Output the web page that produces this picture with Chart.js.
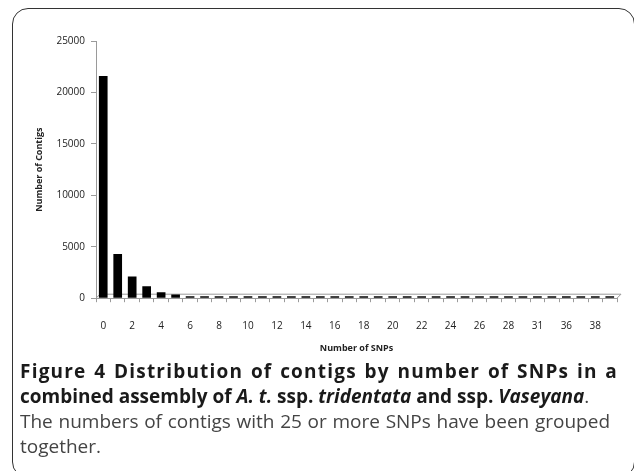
<!DOCTYPE html>
<html>
<head>
<meta charset="utf-8">
<script src="https://cdn.jsdelivr.net/npm/chart.js@4"></script>
<style>
  html, body { margin: 0; padding: 0; background: #fff; }
  body { width: 634px; height: 471px; position: relative; overflow: hidden; }
  .frame {
    position: absolute; left: 12px; top: 8px; width: 623px; height: 470px;
    border: 1.5px solid #333; border-radius: 16px; box-sizing: border-box;
  }
  .chart-box { position: absolute; left: 0; top: 0; width: 634px; height: 360px; }
  .caption {
    position: absolute; left: 20px; top: 359px; width: 598px;
    font-family: "Open Sans", sans-serif; font-size: 19px; line-height: 25px; color: #444;
  }
  .caption div { white-space: nowrap; }
  .caption .j { text-align: justify; text-align-last: justify; white-space: normal; }
  .caption .ls { letter-spacing: 1.2px; }
  .caption b { color: #1a1a1a; }
</style>
</head>
<body>
<div class="frame"></div>
<div class="chart-box"><canvas id="snpChart"></canvas></div>
<div class="caption">
  <div class="j ls"><b>Figure 4 Distribution of contigs by number of SNPs in a</b></div>
  <div><b>combined assembly of <i>A. t.</i> ssp. <i>tridentata</i> and ssp. <i>Vaseyana</i></b>.</div>
  <div class="j" style="width:590px">The numbers of contigs with 25 or more SNPs have been grouped</div>
  <div>together.</div>
</div>
<script>
// categories: number of SNPs per contig (every other label shown)
const snpLabels = ['0','1','2','3','4','5','6','7','8','9','10','11','12','13','14','15','16','17',
  '18','19','20','21','22','23','24','25','26','27','28','29','31','33','36','37','38','40'];
// number of contigs per SNP count
const contigCounts = [21600, 4300, 2100, 1150, 580, 350, 200, 120, 80, 55, 40, 30, 22, 18, 14, 11,
  9, 8, 6, 5, 5, 4, 4, 3, 3, 3, 2, 2, 2, 2, 2, 1, 1, 1, 1, 1];
const yTicks = [0, 5000, 10000, 15000, 20000, 25000];

// faux 3D floor like the original spreadsheet chart
const floorPlugin = {
  id: 'floor',
  beforeDatasetsDraw(chart) {
    const { ctx, chartArea: a } = chart;
    const d = 4;
    ctx.save();
    ctx.strokeStyle = '#9a9a9a';
    ctx.lineWidth = 1;
    ctx.beginPath();
    ctx.moveTo(a.left, a.bottom);
    ctx.lineTo(a.left + d, a.bottom - d);
    ctx.lineTo(a.right + d, a.bottom - d);
    ctx.lineTo(a.right, a.bottom);
    ctx.stroke();
    ctx.restore();
  }
};

new Chart(document.getElementById('snpChart'), {
  type: 'bar',
  data: {
    labels: snpLabels,
    datasets: [{
      data: contigCounts,
      backgroundColor: '#000',
      barPercentage: 0.6,
      categoryPercentage: 1,
      minBarLength: 2
    }]
  },
  plugins: [floorPlugin],
  options: {
    responsive: true,
    maintainAspectRatio: false,
    animation: false,
    layout: { padding: { left: 34, right: 17, top: 41, bottom: 6 } },
    plugins: { legend: { display: false }, tooltip: { enabled: false } },
    scales: {
      x: {
        offset: true,
        grid: { offset: true, drawOnChartArea: false, color: '#9a9a9a', tickLength: 4 },
        border: { color: '#9a9a9a' },
        ticks: {
          autoSkip: false, maxRotation: 0, padding: 18, color: '#222',
          font: { family: 'Open Sans', size: 10 },
          callback: (v, i) => i % 2 === 0 ? snpLabels[i] : ''
        },
        title: { display: true, text: 'Number of SNPs', color: '#222', padding: { top: -7, bottom: 0 },
                 font: { family: 'Open Sans', size: 9, weight: 'bold' } }
      },
      y: {
        min: 0, max: 25000,
        afterBuildTicks: s => { s.ticks = yTicks.map(v => ({ value: v })); },
        afterFit: s => { s.width = 62; },
        grid: { drawOnChartArea: false, color: '#9a9a9a', tickLength: 5 },
        border: { color: '#9a9a9a' },
        ticks: { padding: 6, color: '#222', font: { family: 'Open Sans', size: 10 },
                 callback: v => String(v) },
        title: { display: true, text: 'Number of Contigs', color: '#222', padding: 0,
                 font: { family: 'Open Sans', size: 9, weight: 'bold' } }
      }
    }
  }
});
</script>
</body>
</html>
